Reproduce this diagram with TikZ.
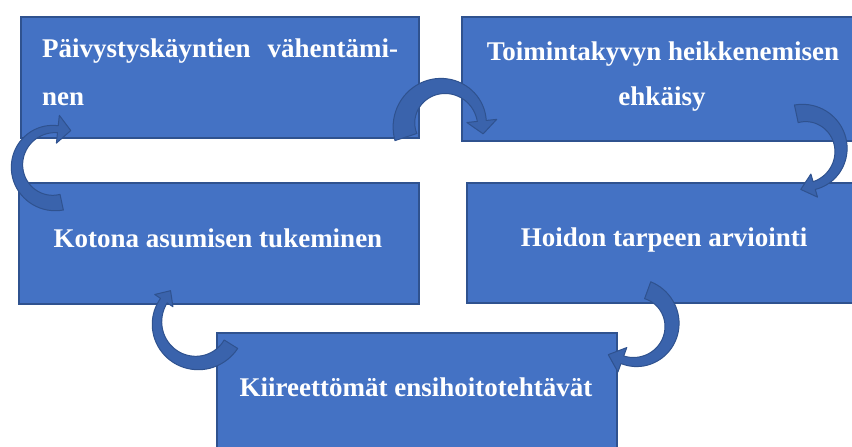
\documentclass[tikz,border=0pt]{standalone}
\usepackage{fontspec}
\setmainfont{Liberation Serif}
\definecolor{boxblue}{HTML}{4472C4}
\definecolor{boxline}{HTML}{2F528F}
\definecolor{arrblue}{HTML}{3A63AC}
\tikzset{
  box/.style={draw=boxline, fill=boxblue, line width=1.5pt, rectangle, anchor=north west, inner sep=0pt},
  lbl/.style={text=white, font=\fontsize{27}{27}\selectfont\bfseries, inner sep=0pt, anchor=base},
  arr/.style={draw=boxline, fill=arrblue, line width=1pt, line join=round}
}
% #1 cx, #2 cy, #3 r, #4 a1, #5 a2, #6 w1, #7 w2, #8 half head width, #9 head length
\newcommand{\carrow}[9]{%
  \filldraw[arr]
    plot[domain=#4:#5, samples=40, variable=\t]
      ({#1+(#3+0.5*(#6+(#7-#6)*(\t-#4)/(#5-#4)))*cos(\t)},{#2+(#3+0.5*(#6+(#7-#6)*(\t-#4)/(#5-#4)))*sin(\t)})
    -- ({#1+(#3+#8)*cos(#5)},{#2+(#3+#8)*sin(#5)})
    -- ({#1+#3*cos(#5)-#9*sin(#5)},{#2+#3*sin(#5)+#9*cos(#5)})
    -- ({#1+(#3-#8)*cos(#5)},{#2+(#3-#8)*sin(#5)})
    -- plot[domain=#5:#4, samples=40, variable=\t]
      ({#1+(#3-0.5*(#6+(#7-#6)*(\t-#4)/(#5-#4)))*cos(\t)},{#2+(#3-0.5*(#6+(#7-#6)*(\t-#4)/(#5-#4)))*sin(\t)})
    -- cycle;}
\begin{document}
\begin{tikzpicture}[x=1pt,y=-1pt]
\useasboundingbox (0,0) rectangle (852,447);
\clip (0,0) rectangle (852,447);
\fill[white] (0,0) rectangle (852,447);
% boxes
\node[box, minimum width=398pt, minimum height=121pt] (b1) at (20,16) {};
\node[box, minimum width=410pt, minimum height=124pt] (b2) at (461,16) {};
\node[box, minimum width=400pt, minimum height=121pt] (b3) at (18,182) {};
\node[box, minimum width=405pt, minimum height=120pt] (b4) at (466,182) {};
\node[box, minimum width=400pt, minimum height=130pt] (b5) at (216,332) {};
% curved arrows
\carrow{443}{125}{39}{162}{354}{23}{9}{15}{13}
\carrow{804}{150}{37}{258}{434}{18}{8}{12}{14}
\carrow{54}{166}{37}{78}{276}{16}{7}{14}{13}
\carrow{635}{325}{37}{290}{470}{18}{8}{13}{15}
\carrow{197}{323}{40}{32}{214}{16}{8}{11}{12}
% labels
\node[lbl, anchor=base west] (t1a) at (42,57.5) {\makebox[356pt][l]{Päivystyskäyntien\hfill vähentämi-}};
\node[lbl, anchor=base west] (t1b) at (42,105) {nen};
\node[lbl] (t2a) at (663,60) {Toimintakyvyn heikkenemisen};
\node[lbl] (t2b) at (662,105) {ehkäisy};
\node[lbl] (t3) at (218,247) {Kotona asumisen tukeminen};
\node[lbl] (t4) at (664,246) {Hoidon tarpeen arviointi};
\node[lbl] (t5) at (416,396) {Kiireettömät ensihoitotehtävät};
\end{tikzpicture}
\end{document}
